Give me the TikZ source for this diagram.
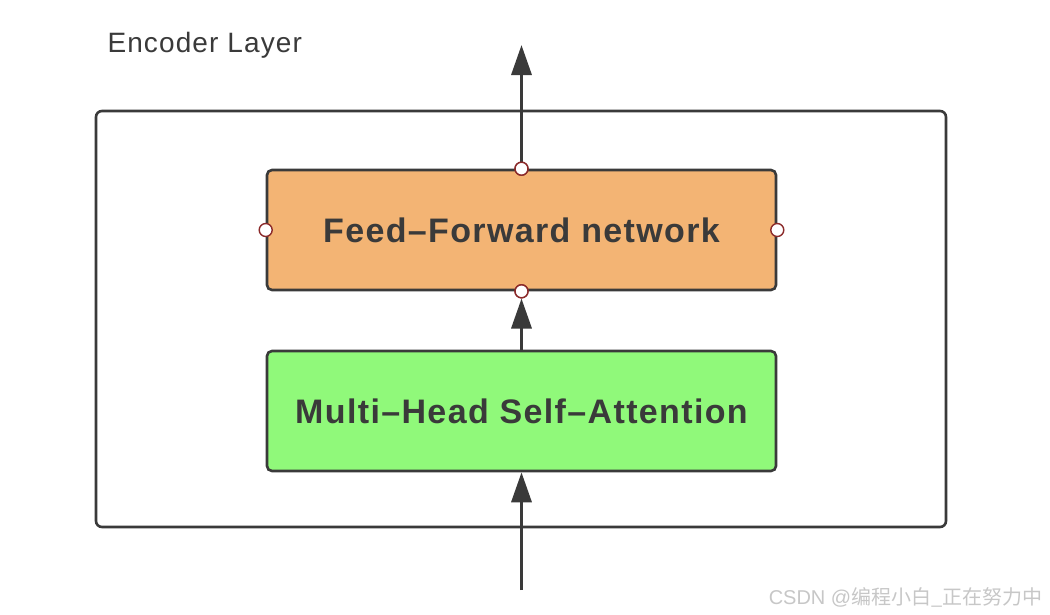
\documentclass[tikz,border=0pt]{standalone}
\usepackage{fontspec}
\setmainfont{Liberation Sans}
\newfontfamily\cjk{Noto Sans CJK SC}
\newfontfamily\widesans[LetterSpace=4]{Liberation Sans}
\usetikzlibrary{arrows.meta}
\definecolor{edge}{HTML}{3A3A3A}
\definecolor{ffc}{HTML}{F3B474}
\definecolor{mhc}{HTML}{90F97A}
\definecolor{portc}{HTML}{8B2A2A}
\tikzset{
  blockbox/.style={draw=edge, line width=2.6pt, rounded corners=5pt, minimum width=509pt, minimum height=120pt, inner sep=0pt, font=\fontsize{34}{38}\widesans\bfseries, text=edge},
  outerbox/.style={draw=edge, line width=2.6pt, rounded corners=6pt},
  flow/.style={draw=edge, line width=3.4pt, -{Triangle[length=30pt, width=20pt]}},
  port/.style={circle, draw=portc, fill=white, line width=1.4pt, minimum size=13pt, inner sep=0pt}
}
\begin{document}
\begin{tikzpicture}[x=1pt, y=-1pt]
\useasboundingbox (0,0) rectangle (1050,614);
\fill[white] (0,0) rectangle (1050,614);
\draw[outerbox] (96,111) rectangle (946,527);
\node[blockbox, fill=ffc] (ff) at (521.5,230) {Feed–Forward network};
\node[blockbox, fill=mhc] (mh) at (521.5,411) {Multi–Head Self–Attention};
\coordinate (top) at (521.5,45);
\coordinate (bot) at (521.5,590);
\node[port] (pt) at (ff.north) {};
\node[port] (pb) at (ff.south) {};
\node[port] (pl) at (ff.west) {};
\node[port] (pr) at (ff.east) {};
\draw[flow] (ff.north) -- (top);
\draw[flow] (mh.north) -- (pb.south);
\draw[flow] (bot) -- (mh.south);
\node[port] at (ff.north) {};
\node[port] at (ff.south) {};
\node[anchor=west, font=\fontsize{28}{30}\widesans, text=edge] (lbl) at (104,45) {Encoder Layer};
\node[anchor=east, font=\fontsize{20}{22}\selectfont, text=black!22] (wm) at (1046,597) {CSDN @{\cjk 编程小白\_正在努力中}};
\end{tikzpicture}
\end{document}
